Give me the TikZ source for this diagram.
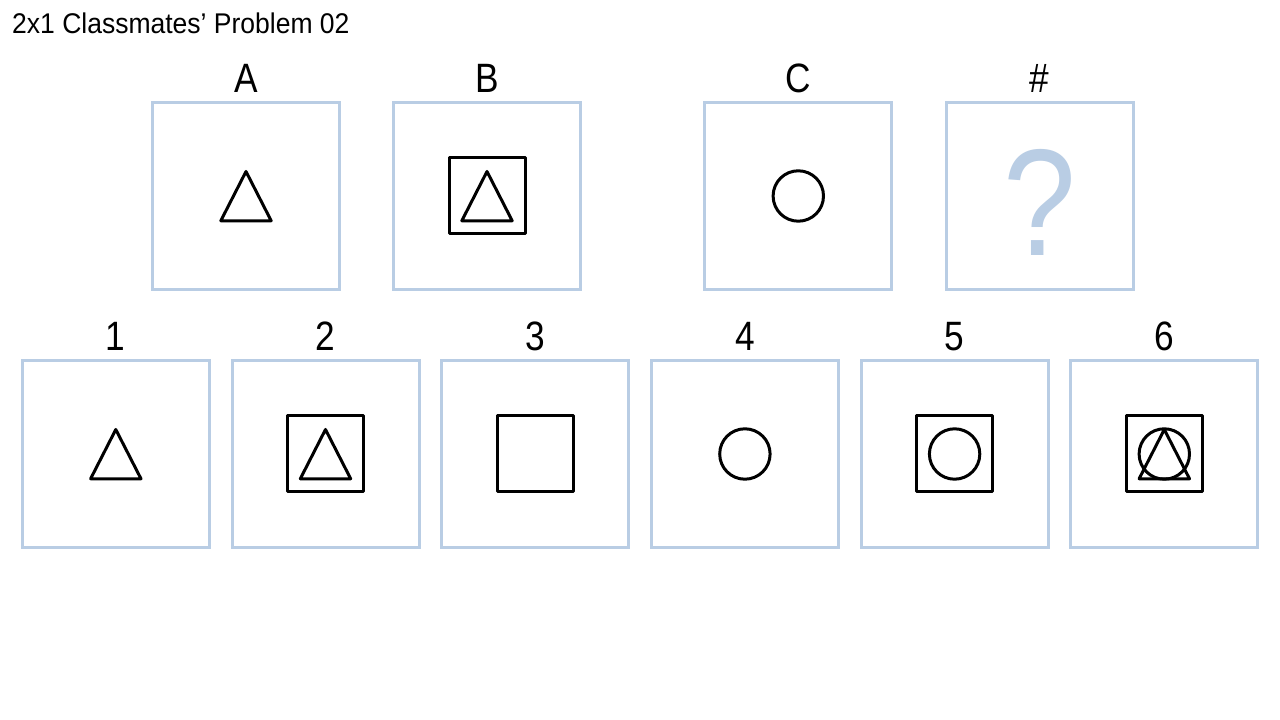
\documentclass[tikz,border=0pt]{standalone}
\usepackage{fontspec}
\setmainfont{Liberation Sans}
\newfontfamily\titlesans[FakeStretch=0.93]{Liberation Sans}
\newfontfamily\labelsans[FakeStretch=0.86]{Liberation Sans}
\usetikzlibrary{positioning, calc}
\definecolor{panelblue}{RGB}{185,205,228}
\definecolor{ink}{RGB}{0,0,0}

\tikzset{
  panel/.style={draw=panelblue, line width=3pt, minimum size=187pt,
                inner sep=0pt, outer sep=0pt},
  panellabel/.style={anchor=base, inner sep=0pt,
                     font=\labelsans\fontsize{41}{41}\selectfont},
  figline/.style={draw=ink, line width=3pt, line join=round},
}

% figures drawn round the centre of a panel
\newcommand{\drawtri}[1]{\draw[figline] ($(#1)+(0,24.5)$) -- ($(#1)+(25.2,-24.8)$)
  -- ($(#1)+(-25.2,-24.8)$) -- cycle;}
\newcommand{\drawsq}[1]{\draw[figline] ($(#1)+(-38,-38)$) rectangle ($(#1)+(38,38)$);}
\newcommand{\drawcirc}[1]{\draw[figline] (#1) circle[radius=25.2];}

\begin{document}
\begin{tikzpicture}[x=1pt, y=1pt]
  \fill[white] (0,0) rectangle (1280,720);
  \useasboundingbox (0,0) rectangle (1280,720);

  \node[anchor=base west, inner sep=0pt, font=\titlesans\fontsize{28.5}{30}\selectfont]
    (title) at (12,686.5) {2x1 Classmates’ Problem 02};

  % question row
  \node[panel] (boxA) at (246,524) {};
  \node[panel] (boxB) at (487,524) {};
  \node[panel] (boxC) at (798.3,524) {};
  \node[panel] (boxQ) at (1039.5,524) {};
  \node[panellabel] (labA) at ([yshift=10pt]boxA.north) {A};
  \node[panellabel] (labB) at ([yshift=10pt]boxB.north) {B};
  \node[panellabel] (labC) at ([yshift=10pt]boxC.north) {C};
  \node[panellabel] (labQ) at ([yshift=10pt]boxQ.north) {\#};

  \drawtri{boxA}
  \drawsq{boxB}
  \drawtri{boxB}
  \drawcirc{boxC}
  \node[anchor=base, inner sep=0pt, text=panelblue,
        font=\labelsans\fontsize{152}{152}\selectfont] (qmark) at (1040,464) {?};

  % answer row
  \foreach \n in {1,...,6} {
    \node[panel] (opt\n) at ({115.8+209.7*(\n-1)},266) {};
    \node[panellabel] (lab\n) at ([yshift=10pt]opt\n.north) {\n};
  }

  \drawtri{opt1}
  \drawsq{opt2}
  \drawtri{opt2}
  \drawsq{opt3}
  \drawcirc{opt4}
  \drawsq{opt5}
  \drawcirc{opt5}
  \drawsq{opt6}
  \drawcirc{opt6}
  \drawtri{opt6}
\end{tikzpicture}
\end{document}
